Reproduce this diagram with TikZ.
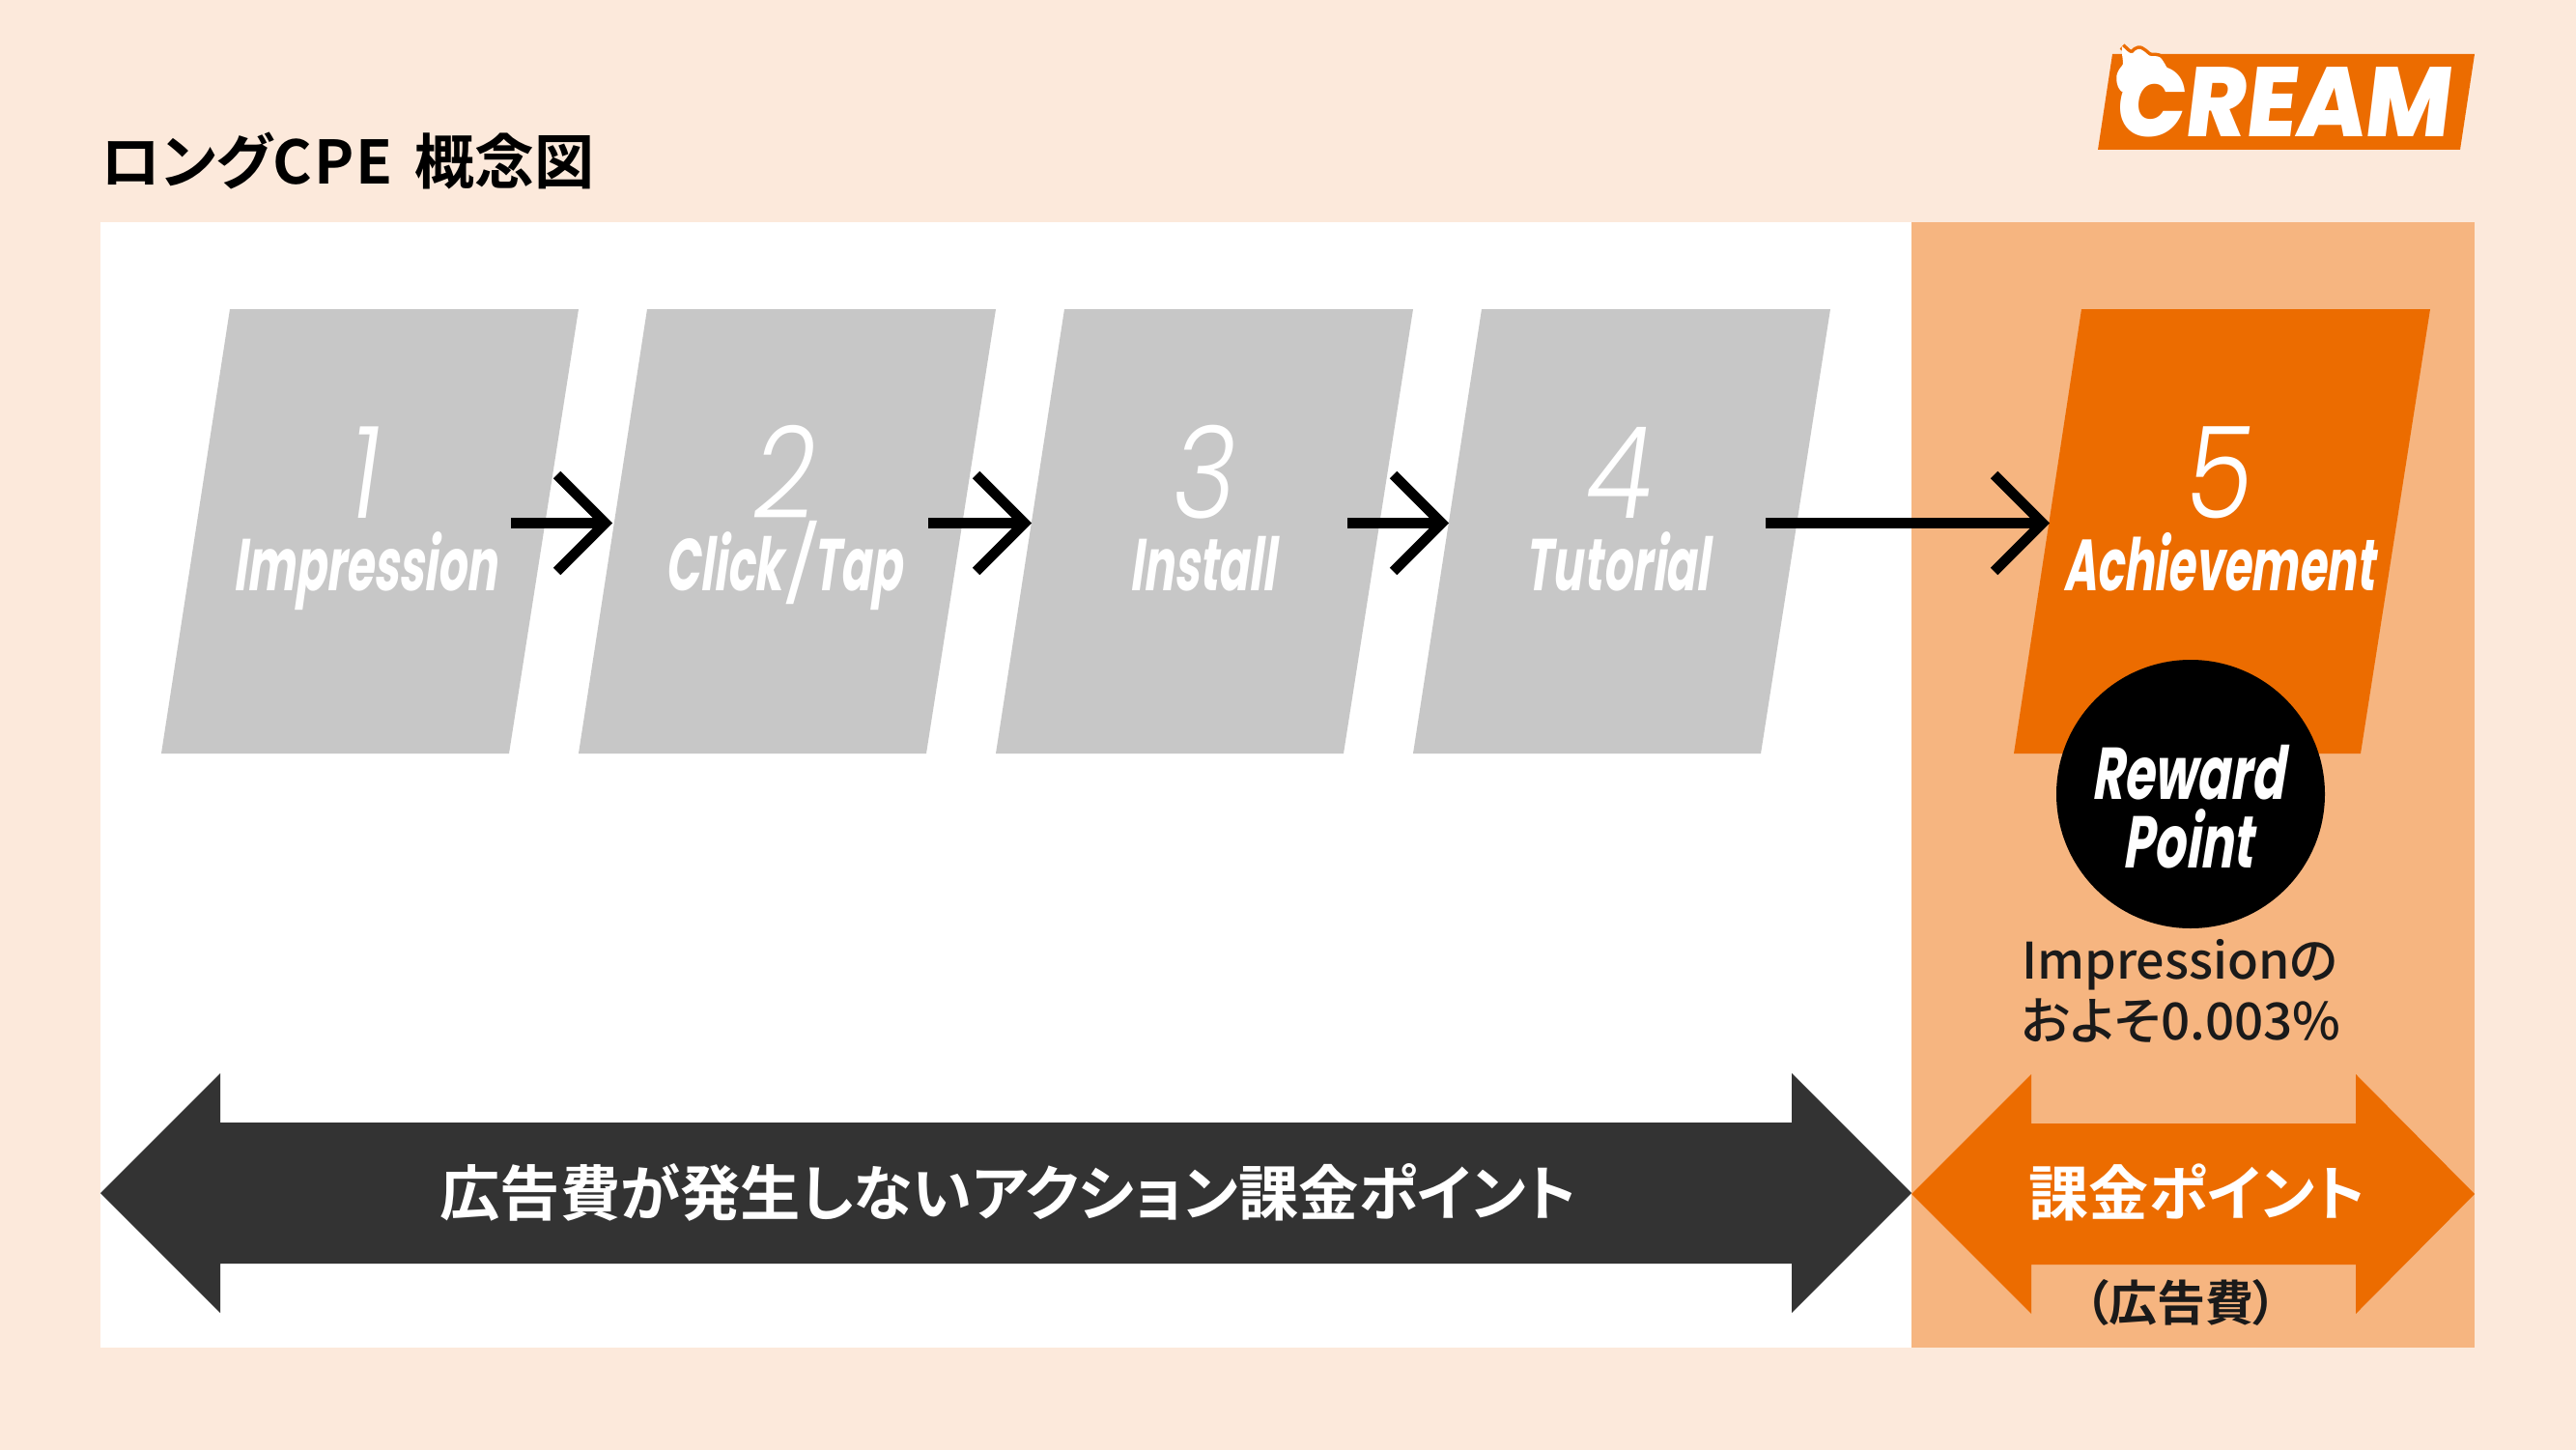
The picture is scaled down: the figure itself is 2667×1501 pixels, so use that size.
\documentclass[tikz,border=0pt]{standalone}
\usepackage{fontspec}
\usetikzlibrary{arrows.meta}
\newfontfamily\jpb[RawFeature={+palt}]{Noto Sans CJK JP Bold}
\newfontfamily\jpm[RawFeature={+palt}]{Noto Sans CJK JP Medium}
\newfontfamily\condb[FakeStretch=0.62,FakeSlant=0.14]{Poppins Bold}
\newfontfamily\rewb[FakeStretch=0.67,FakeSlant=0.16]{Poppins Bold}
\newfontfamily\thin[FakeStretch=0.85,FakeSlant=0.14]{Poppins Light}
\newfontfamily\logof[FakeStretch=0.93,FakeSlant=0.12]{Poppins ExtraBold}
\definecolor{pagebg}{HTML}{FCE9DB}
\definecolor{pale}{HTML}{F6B580}
\definecolor{brand}{HTML}{EC6C00}
\definecolor{cardgray}{HTML}{C7C7C7}
\definecolor{darkbar}{HTML}{333333}
\definecolor{ink}{HTML}{1A1A1A}
\tikzset{
  txt/.style={inner sep=0pt,outer sep=0pt,anchor=base},
  digit/.style={txt,text=white,font=\thin\fontsize{132}{132}\selectfont},
  label/.style={txt,text=white,font=\condb\fontsize{76}{76}\selectfont},
  flow/.style={line width=10.5pt,-{Straight Barb[length=50pt,width=100pt,line width=10.5pt]}},
}
\begin{document}
\begin{tikzpicture}[x=1pt,y=-1pt]
\useasboundingbox (0,0) rectangle (2667,1501);
\fill[pagebg] (0,0) rectangle (2667,1501);
\fill[white] (104,230) rectangle (1979,1395);
\fill[pale] (1979,230) rectangle (2562,1395);
% logo
\fill[brand] (2187,56) -- (2562,56) -- (2547,155) -- (2172,155) -- cycle;
\draw[brand,line width=7pt,line join=round] (2197,48) .. controls (2202,52) and (2204,56) .. (2208,55) .. controls (2212,50) and (2216,50) .. (2218,52) .. controls (2222,54) and (2224,58) .. (2227,58) .. controls (2232,58) and (2236,58) .. (2238,61);
\node[txt,text=white,font=\logof\fontsize{102}{102}\selectfont] (logo) at (2362,142) {CREAM};
\fill[white] (2197,48) .. controls (2202,52) and (2204,56) .. (2208,55) .. controls (2212,50) and (2216,50) .. (2218,52) .. controls (2222,54) and (2224,58) .. (2227,58) .. controls (2232,58) and (2236,58) .. (2238,61) .. controls (2241,64) and (2241,67) .. (2245,72) -- (2232,80) -- (2205,92) -- (2197,95) .. controls (2192,92) and (2190,82) .. (2192,76) .. controls (2194,70) and (2198,68) .. (2198,66) .. controls (2198,60) and (2196,54) .. (2197,48) -- cycle;
% title
\node[txt,anchor=base west,text=black,font=\jpb\fontsize{62}{62}\selectfont] (title) at (104,190) {ロングC\kern 2ptP\kern 2ptE\kern 9pt\ 概念図};
% cards
\fill[cardgray] (238,320) -- (599,320) -- (527,780) -- (167,780) -- cycle;
\fill[cardgray] (670,320) -- (1031,320) -- (959,780) -- (599,780) -- cycle;
\fill[cardgray] (1102,320) -- (1463,320) -- (1391,780) -- (1031,780) -- cycle;
\fill[cardgray] (1534,320) -- (1895,320) -- (1823,780) -- (1463,780) -- cycle;
\fill[brand] (2155,320) -- (2516,320) -- (2444,780) -- (2085,780) -- cycle;
\node[digit] (d1) at (373,536) {1};
\node[digit] (d2) at (808,536) {2};
\node[digit] (d3) at (1242,536) {3};
\node[digit] (d4) at (1672,536) {4};
\node[digit] (d5) at (2293,536) {5};
\node[label] (l1) at (378,611) {Impression};
\node[label] (l2) at (811,611) {Click\kern 5pt/\kern 5ptTap};
\node[label] (l3) at (1245,611) {Install};
\node[label] (l4) at (1673,611) {\kern 2ptT\kern 1ptu\kern 1ptt\kern 1ptorial};
\node[label,font=\condb\fontsize{75}{75}\selectfont] (l5) at (2297,611) {Achievement};
% arrows
\coordinate (a1s) at (529,541.5); \coordinate (a1e) at (634,541.5);
\coordinate (a2s) at (961,541.5); \coordinate (a2e) at (1068,541.5);
\coordinate (a3s) at (1395,541.5); \coordinate (a3e) at (1500,541.5);
\coordinate (a4s) at (1828,541.5); \coordinate (a4e) at (2122,541.5);
\draw[flow] (a1s) -- (a1e);
\draw[flow] (a2s) -- (a2e);
\draw[flow] (a3s) -- (a3e);
\draw[flow] (a4s) -- (a4e);
% reward
\node[circle,fill=black,minimum size=278pt,inner sep=0pt] (reward) at (2268,822) {};
\node[txt,text=white,font=\rewb\fontsize{76}{76}\selectfont] (r1) at (2265,827) {Reward};
\node[txt,text=white,font=\rewb\fontsize{76}{76}\selectfont] (r2) at (2265,898) {Point};
\node[txt,text=ink,font=\jpm\fontsize{52}{52}\selectfont] (n1) at (2257,1013.5) {Impressionの};
\node[txt,text=ink,font=\jpm\fontsize{53}{53}\selectfont] (n2) at (2258,1076.5) {およそ0.003\%};
% double arrows
\fill[darkbar] (104,1235) -- (228,1111) -- (228,1162) -- (1855,1162) -- (1855,1111) -- (1979,1235) -- (1855,1359) -- (1855,1308) -- (228,1308) -- (228,1359) -- cycle;
\node[txt,text=white,font=\jpb\fontsize{62.3}{62.3}\selectfont] (bar1) at (1044,1258) {広告費が発生しないアクション課金ポイント};
\fill[brand] (1979,1236) -- (2103,1112) -- (2103,1163) -- (2439,1163) -- (2439,1112) -- (2562,1236) -- (2439,1360) -- (2439,1309) -- (2103,1309) -- (2103,1360) -- cycle;
\node[txt,text=white,font=\jpb\fontsize{62}{62}\selectfont] (bar2) at (2275,1258) {課金ポイント};
\node[txt,text=ink,font=\jpb\fontsize{50}{50}\selectfont] (cost) at (2258,1367) {（広告費）};
\end{tikzpicture}
\end{document}
